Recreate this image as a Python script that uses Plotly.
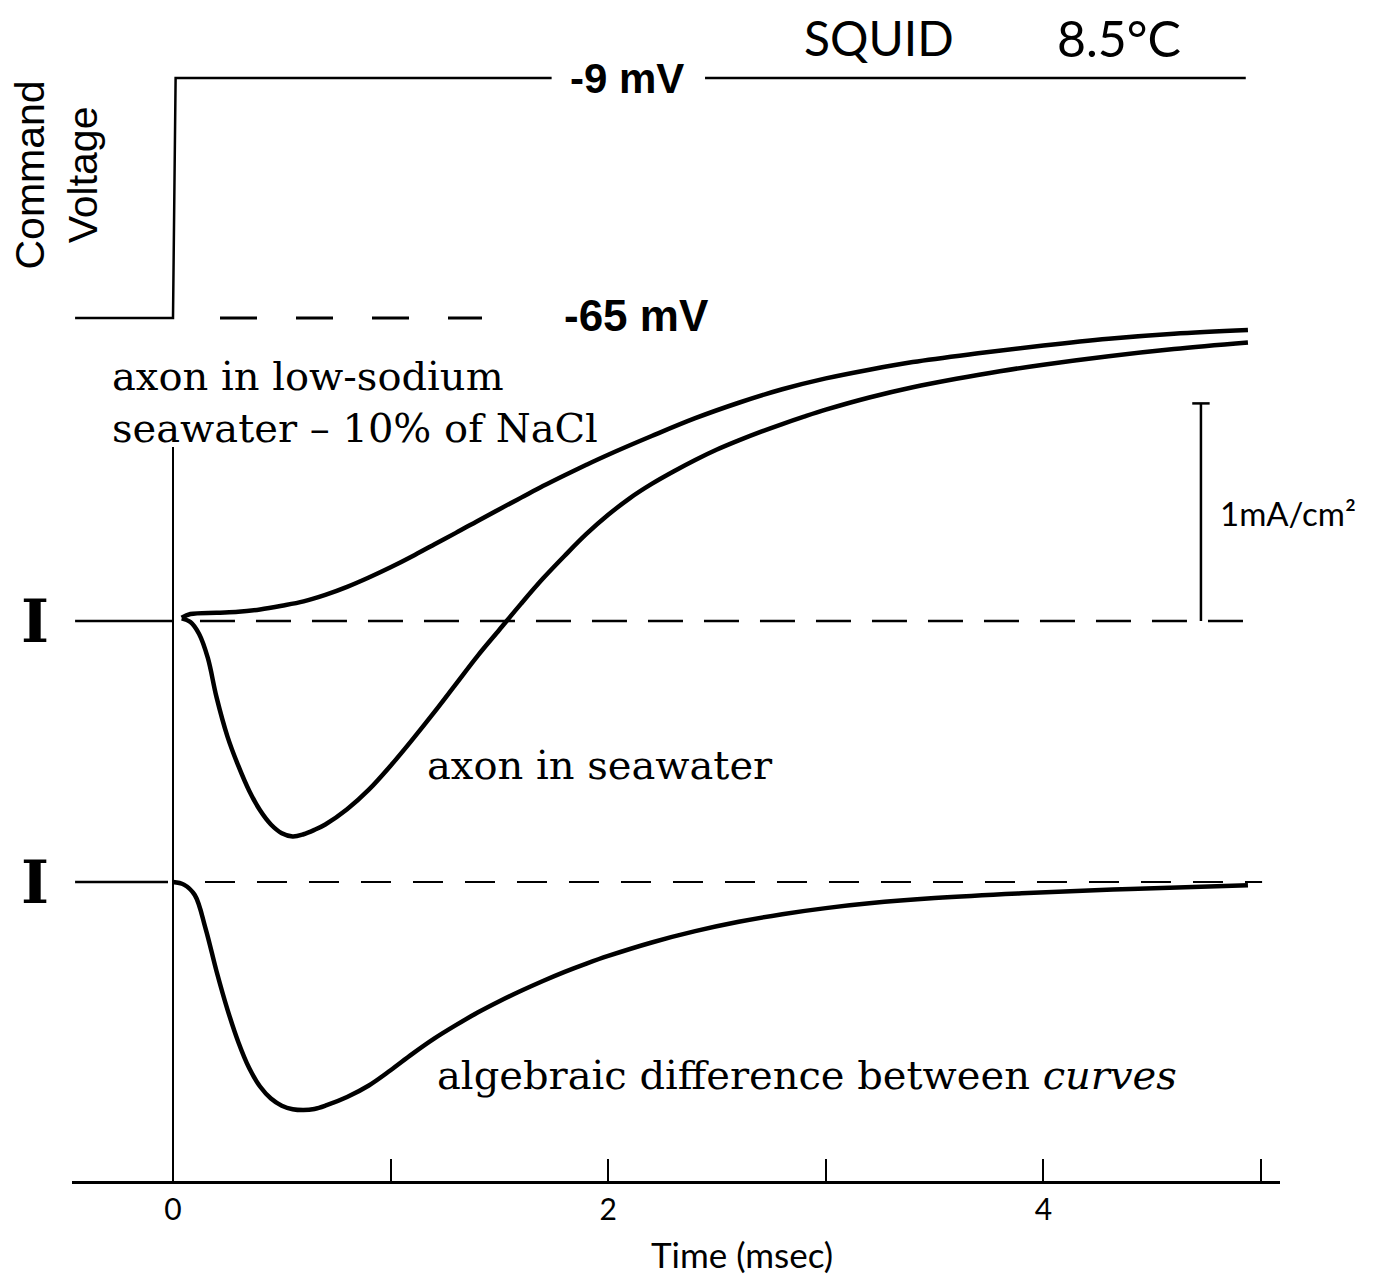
import plotly.graph_objects as go

# ---------------- data (time in ms, current in mA/cm^2, voltage in mV) ----------------
t_lowna = [0.04, 0.08, 0.2, 0.3, 0.4, 0.5, 0.6, 0.7, 0.8, 0.9, 1.0, 1.1, 1.2, 1.3, 1.4,
           1.5, 1.6, 1.7, 1.8, 1.9, 2.0, 2.2, 2.4, 2.6, 2.8, 3.0, 3.2, 3.4, 3.7, 4.0,
           4.3, 4.6, 4.94]
i_lowna = [0.015, 0.032, 0.038, 0.042, 0.053, 0.070, 0.090, 0.120, 0.157, 0.200, 0.247,
           0.298, 0.352, 0.405, 0.460, 0.514, 0.567, 0.620, 0.670, 0.718, 0.764, 0.850,
           0.932, 1.003, 1.065, 1.115, 1.155, 1.190, 1.230, 1.266, 1.297, 1.320, 1.337]

t_sea = [0.04, 0.08, 0.12, 0.16, 0.2, 0.25, 0.3, 0.35, 0.4, 0.45, 0.5, 0.55, 0.6, 0.65,
         0.7, 0.8, 0.9, 1.0, 1.1, 1.2, 1.3, 1.4, 1.5, 1.6, 1.7, 1.8, 1.9, 2.0, 2.1, 2.2,
         2.3, 2.4, 2.5, 2.6, 2.7, 2.8, 2.9, 3.0, 3.2, 3.4, 3.6, 3.8, 4.0, 4.3, 4.6, 4.94]
i_sea = [0.012, -0.005, -0.060, -0.170, -0.350, -0.530, -0.665, -0.780, -0.870, -0.935,
         -0.975, -0.990, -0.980, -0.960, -0.935, -0.865, -0.775, -0.665, -0.545, -0.420,
         -0.290, -0.160, -0.040, 0.080, 0.195, 0.300, 0.400, 0.488, 0.565, 0.630, 0.687,
         0.740, 0.788, 0.830, 0.869, 0.905, 0.939, 0.971, 1.027, 1.074, 1.113, 1.148,
         1.178, 1.217, 1.250, 1.280]

t_diff = [0.0, 0.05, 0.1, 0.15, 0.2, 0.25, 0.3, 0.35, 0.4, 0.45, 0.5, 0.55, 0.6, 0.65,
          0.7, 0.8, 0.9, 1.0, 1.1, 1.2, 1.3, 1.4, 1.5, 1.6, 1.7, 1.8, 1.9, 2.0, 2.2, 2.4,
          2.6, 2.8, 3.0, 3.2, 3.5, 3.9, 4.4, 4.94]
i_diff = [0.0, -0.012, -0.060, -0.215, -0.410, -0.585, -0.735, -0.855, -0.940, -0.995,
          -1.028, -1.044, -1.048, -1.043, -1.028, -0.988, -0.935, -0.865, -0.790, -0.720,
          -0.658, -0.600, -0.548, -0.500, -0.455, -0.413, -0.375, -0.340, -0.278, -0.226,
          -0.183, -0.148, -0.120, -0.098, -0.074, -0.052, -0.032, -0.015]

# command voltage step
v_hold = -65
v_step = -9
t_cmd_start = -0.45
t_cmd_end = 4.93
t_label_gap = [1.74, 2.445]     # gap in the -9 mV line for its label
t_dash_hold = [0.216, 1.42]     # dashed continuation of the -65 mV level

# x-axis ticks
tick_vals = [0, 1, 2, 3, 4, 5]
tick_text = ["0", "", "2", "", "4", ""]

# scale bar
scale_t = 4.724
scale_amp = 1.0

# ---------------- layout constants (page pixels) ----------------
PAGE_W, PAGE_H = 1380, 1285
BODY = 8                               # default page margin around the plot div
W, H = PAGE_W - 2 * BODY, PAGE_H - 2 * BODY
PA_LEFT, PA_RIGHT, PA_TOP, PA_BOTTOM = 72, 1280, 8, 1181   # plot area in page px
PX = 217.6                             # pixels per ms and per mA/cm^2
ZERO_PX = 173                          # page column of t = 0
BASE1_PX = 621                         # page row of first current baseline
BASE2_PX = 882                         # page row of difference-curve baseline
VHOLD_PX, VSTEP_PX = 318, 78           # page rows of -65 mV and -9 mV

ML = PA_LEFT - BODY
MR = W - (PA_RIGHT - BODY)
MT = PA_TOP - BODY
MB = H - (PA_BOTTOM - BODY)

x_range = [(PA_LEFT - ZERO_PX) / PX, (PA_RIGHT - ZERO_PX) / PX]
y1_range = [(BASE1_PX - PA_BOTTOM) / PX, (BASE1_PX - PA_TOP) / PX]
y3_range = [(BASE2_PX - PA_BOTTOM) / PX, (BASE2_PX - PA_TOP) / PX]
px_per_mv = (VHOLD_PX - VSTEP_PX) / (v_step - v_hold)
y2_range = [v_hold - (PA_BOTTOM - VHOLD_PX) / px_per_mv,
            v_hold + (VHOLD_PX - PA_TOP) / px_per_mv]


def xp(t):
    return (t - x_range[0]) / (x_range[1] - x_range[0])


def yp(v, rng=y1_range):
    return (v - rng[0]) / (rng[1] - rng[0])


K = "black"
fig = go.Figure()

# command voltage
fig.add_trace(go.Scatter(
    x=[t_cmd_start, 0, 0.012, t_label_gap[0], None, t_label_gap[1], t_cmd_end],
    y=[v_hold, v_hold, v_step, v_step, None, v_step, v_step],
    mode="lines", line=dict(color=K, width=2.5), yaxis="y2"))
fig.add_trace(go.Scatter(
    x=t_dash_hold, y=[v_hold, v_hold], mode="lines",
    line=dict(color=K, width=3, dash="37px,39px"), yaxis="y2"))

# baseline of the first pair of currents
fig.add_trace(go.Scatter(x=[t_cmd_start, 0], y=[0, 0], mode="lines",
                         line=dict(color=K, width=2.5), yaxis="y"))
fig.add_trace(go.Scatter(x=[0.124, 5.005], y=[0, 0], mode="lines",
                         line=dict(color=K, width=2.5, dash="35px,21px"), yaxis="y"))
# baseline of the difference curve
fig.add_trace(go.Scatter(x=[t_cmd_start, -0.023], y=[0, 0], mode="lines",
                         line=dict(color=K, width=2.5), yaxis="y3"))
fig.add_trace(go.Scatter(x=[0.147, 5.005], y=[0, 0], mode="lines",
                         line=dict(color=K, width=2.2, dash="30px,22px"), yaxis="y3"))

# time-zero marker
fig.add_trace(go.Scatter(x=[0, 0], y=[0.80, y1_range[0]], mode="lines",
                         line=dict(color=K, width=2), yaxis="y"))

# current traces
for tt, ii, ax in [(t_lowna, i_lowna, "y"), (t_sea, i_sea, "y"), (t_diff, i_diff, "y3")]:
    fig.add_trace(go.Scatter(x=tt, y=ii, mode="lines", yaxis=ax,
                             line=dict(color=K, width=4.5, shape="spline", smoothing=1.0)))

# scale bar
fig.add_trace(go.Scatter(x=[scale_t, scale_t, None, scale_t - 0.04, scale_t + 0.04],
                         y=[0, scale_amp, None, scale_amp, scale_amp], mode="lines",
                         line=dict(color=K, width=2.5), yaxis="y"))

SERIF = "DejaVu Serif"
SANS = "Liberation Sans"
LIGHT = "Lato"


def ann(text, t, v, size, family, xanchor="left", rng=y1_range, **kw):
    fig.add_annotation(text=text, x=xp(t), y=yp(v, rng), xref="paper", yref="paper",
                       showarrow=False, xanchor=xanchor, yanchor="middle",
                       font=dict(size=size, family=family, color=K), **kw)


ann("Command<br>Voltage", -0.535, 2.05, 41, SANS, xanchor="center", textangle=-90)
ann("SQUID", 2.891, 2.680, 48, LIGHT)
ann("8.5°C", 4.053, 2.680, 50, LIGHT)
ann("<b>-9 mV</b>", 2.086, 2.495, 42, SANS, xanchor="center")
ann("<b>-65 mV</b>", 2.132, 1.402, 44, SANS, xanchor="center")
ann("axon in low-sodium<br>seawater \u2013 10% of NaCl", -0.290, 1.007, 40, SERIF,
    align="left")
ann("axon in seawater", 1.158, -0.662, 40, SERIF)
ann("algebraic difference between <i>curves</i>", 1.204, -2.086, 40, SERIF)
ann("<b>I</b>", -0.634, 0.0, 60, SERIF, xanchor="center")
ann("<b>I</b>", -0.634, -1.199, 60, SERIF, xanchor="center")
ann("1mA/cm²", 4.802, 0.496, 33, LIGHT)
ann("Time (msec)", 2.615, -2.910, 35, LIGHT, xanchor="center")

fig.update_layout(
    width=W, height=H, margin=dict(l=ML, r=MR, t=MT, b=MB),
    paper_bgcolor="white", plot_bgcolor="white", showlegend=False,
    xaxis=dict(range=x_range, showgrid=False, zeroline=False, showline=True,
               linecolor=K, linewidth=2.5, ticks="inside", ticklen=22, tickwidth=2,
               tickcolor=K, tickvals=tick_vals, ticktext=tick_text,
               tickfont=dict(size=30, family=LIGHT, color=K)),
    yaxis=dict(range=y1_range, visible=False),
    yaxis2=dict(range=y2_range, visible=False, overlaying="y"),
    yaxis3=dict(range=y3_range, visible=False, overlaying="y"),
)

fig.write_html("out.html")
